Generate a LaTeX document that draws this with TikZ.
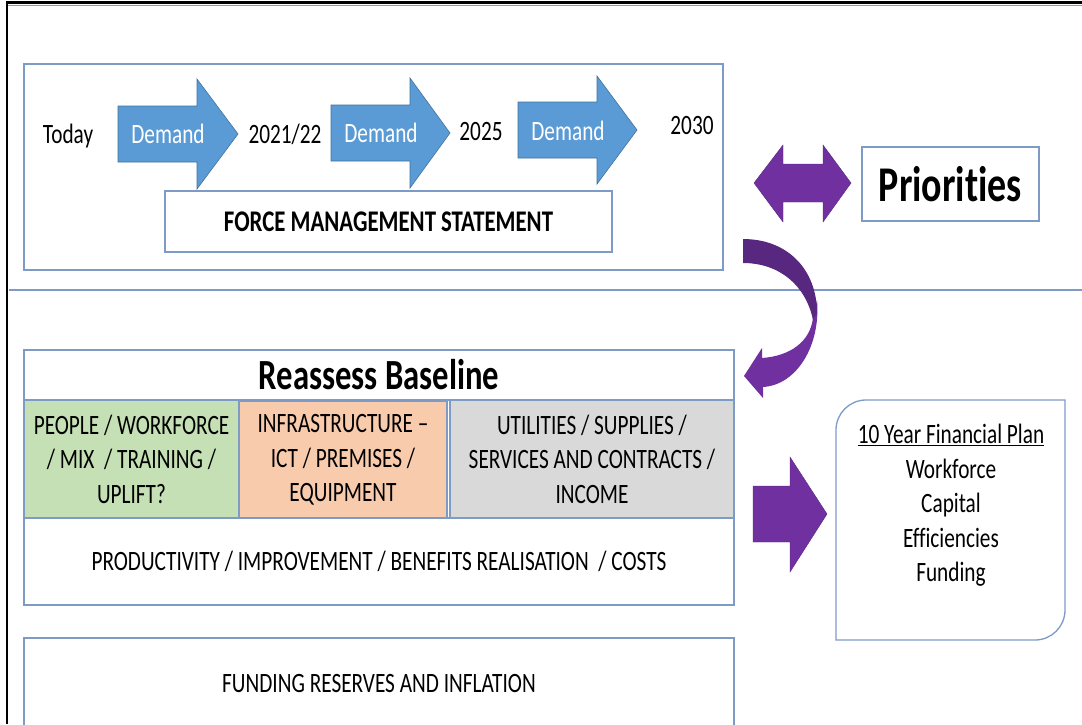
\documentclass[tikz,border=0pt]{standalone}
\usepackage{fontspec}
\setmainfont{Carlito}[FakeStretch=0.76, Ligatures={NoCommon}]
\definecolor{bord}{RGB}{126,155,200}
\definecolor{arrblue}{RGB}{91,155,213}
\definecolor{arrblueline}{RGB}{65,113,156}
\definecolor{purp}{RGB}{112,48,160}
\definecolor{purpdark}{RGB}{88,40,128}
\definecolor{cgreen}{RGB}{197,224,180}
\definecolor{corange}{RGB}{248,203,173}
\definecolor{cgray}{RGB}{217,217,217}
\begin{document}
\begin{tikzpicture}[x=1pt,y=-1pt,
  box/.style={draw=bord, line width=1.3pt, fill=white, inner sep=0pt, align=center},
  lbl/.style={anchor=base, inner sep=0pt, font=\fontsize{28}{34}\selectfont},
  dlbl/.style={lbl, text=white, font=\fontsize{28}{34}\selectfont},
  cell/.style={box, font=\fontsize{28}{34.5}\selectfont, minimum height=118pt},
  blockarrow/.style={fill=arrblue, draw=arrblueline, line width=0.6pt},
  parrow/.style={fill=purp, draw=purp!80!black, line width=0.4pt}]
\useasboundingbox (0,0) rectangle (1082,724);
\clip (0,0) rectangle (1082,724);

% outer frame and separator
\draw[bord, line width=1.5pt] (8,5.5) -- (1082,5.5);
\draw[black, line width=2.2pt] (7,724) -- (7,2.5) -- (1082,2.5);
\draw[bord, line width=1.5pt] (8.5,290) -- (1082,290);

% top box
\node[box, minimum width=699pt, minimum height=206pt] (top) at (373.5,167) {};

% demand arrows
\draw[blockarrow] (118,106) -- (197,106) -- (197,79) -- (238,134) -- (197,189) -- (197,162) -- (118,162) -- cycle;
\draw[blockarrow] (331,105) -- (410,105) -- (410,78) -- (450,133) -- (410,188) -- (410,161) -- (331,161) -- cycle;
\draw[blockarrow] (518,102) -- (597,102) -- (597,76) -- (637,130) -- (597,184) -- (597,158) -- (518,158) -- cycle;

\node[lbl] (today) at (68,143) {Today};
\node[dlbl] (d1) at (168,143) {Demand};
\node[lbl] (y2122) at (285,143) {2021/22};
\node[dlbl] (d2) at (381,142) {Demand};
\node[lbl] (y2025) at (481,140) {2025};
\node[dlbl] (d3) at (568,140) {Demand};
\node[lbl] (y2030) at (692,134) {2030};

\node[box, minimum width=447pt, minimum height=61pt, font=\bfseries\fontsize{30}{36}\selectfont] (fms) at (388.5,221.5) {FORCE MANAGEMENT STATEMENT};

% priorities
\draw[parrow] (754,183) -- (783,145) -- (783,164) -- (823,164) -- (823,145) -- (851,183) -- (823,222) -- (823,202) -- (783,202) -- (783,222) -- cycle;
\node[box, minimum width=177pt, minimum height=74pt, font=\bfseries\fontsize{50}{60}\selectfont] (prio) at (950.5,184) {Priorities};

% curved arrow
\fill[purp] (817,300) .. controls (821,345) and (797,385) .. (763,387) -- (763,398) -- (744,376) -- (762,348) -- (762,358) .. controls (790,356) and (810,342) .. (813,318) -- cycle;
\fill[purpdark] (743,239) .. controls (788,239) and (817,270) .. (817,313) -- (813,320) .. controls (806,286) and (780,263) .. (743,263) -- cycle;

% reassess baseline group
\node[box, minimum width=710pt, minimum height=50pt, font=\bfseries\fontsize{43}{50}\selectfont] (rb) at (379,375) {Reassess Baseline};
\node[cell, fill=cgreen, minimum width=215pt] (people) at (131.5,459) {PEOPLE / WORKFORCE\\/ MIX~ / TRAINING /\\UPLIFT?};
\node[cell, fill=corange, minimum width=208pt] (infra) at (343,460) {INFRASTRUCTURE --\\ICT / PREMISES /\\EQUIPMENT};
\node[cell, fill=cgray, minimum width=284pt] (util) at (592,459) {UTILITIES / SUPPLIES /\\SERVICES AND CONTRACTS /\\INCOME};
\node[box, minimum width=710pt, minimum height=87pt, font=\fontsize{28}{34}\selectfont] (prod) at (379,561.5) {PRODUCTIVITY / IMPROVEMENT / BENEFITS REALISATION~ / COSTS};

\node[box, minimum width=710pt, minimum height=130pt] (fund) at (379,703) {};
\node[lbl] (fundtxt) at (379,692) {FUNDING RESERVES AND INFLATION};

% arrow to plan
\draw[parrow] (753,486) -- (790,486) -- (790,457) -- (827,514) -- (790,572) -- (790,542) -- (753,542) -- cycle;

% 10 year plan
\draw[bord, line width=1.3pt, fill=white] (836,640) -- (836,430) .. controls (836,413.4) and (849.4,400) .. (866,400) -- (1065,400) -- (1065,610) .. controls (1065,626.6) and (1051.6,640) .. (1035,640) -- cycle;
\node[anchor=north, inner sep=0pt, align=center, font=\fontsize{28}{34.5}\selectfont] (plan) at (951,424) {\underline{10 Year Financial Plan}\\Workforce\\Capital\\Efficiencies\\Funding};
\end{tikzpicture}
\end{document}
